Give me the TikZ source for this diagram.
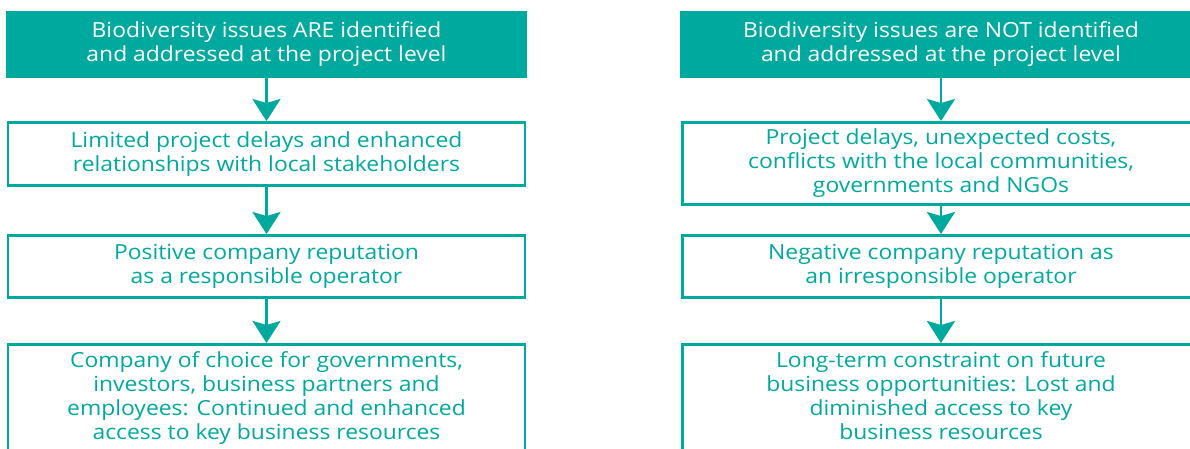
\documentclass[tikz,border=0pt]{standalone}
\usepackage{fontspec}
\setmainfont{Open Sans}[FakeStretch=1.1]
\usetikzlibrary{arrows.meta}
\definecolor{teal1}{HTML}{00A99D}
\tikzset{
  txt/.style={align=center, font=\fontsize{15.6}{18}\selectfont},
  headbox/.style={txt, draw=teal1, fill=teal1, line width=2pt, text=white},
  stepbox/.style={txt, draw=teal1, fill=white, line width=2.2pt, text=teal1},
  flow/.style={draw=teal1, line width=2.2pt, -{Stealth[length=16.5pt, width=21pt, inset=3pt]}},
}
\begin{document}
\begin{tikzpicture}[x=0.75pt,y=-0.75pt]
\clip (0,0) rectangle (1190,449);
\useasboundingbox (0,0) rectangle (1190,449);
% left column
\node[headbox, minimum width=519*0.75pt, minimum height=65*0.75pt] (l1) at (266.5,44.5) {Biodiversity issues ARE identified\\and addressed at the project level};
\node[stepbox, minimum width=517*0.75pt, minimum height=63*0.75pt] (l2) at (266.5,154) {Limited project delays and enhanced\\relationships with local stakeholders};
\node[stepbox, minimum width=517*0.75pt, minimum height=62*0.75pt] (l3) at (266.5,266.5) {Positive company reputation\\as a responsible operator};
\node[stepbox, minimum width=517*0.75pt, minimum height=130*0.75pt, anchor=north] (l4) at (266.5,343) {};
\node[txt, text=teal1, anchor=north] (l4t) at (266.5,347) {Company of choice for governments,\\investors, business partners and\\employees: Continued and enhanced\\access to key business resources};
% right column
\node[headbox, minimum width=519*0.75pt, minimum height=65*0.75pt] (r1) at (941,44.5) {Biodiversity issues are NOT identified\\and addressed at the project level};
\node[stepbox, minimum width=517*0.75pt, minimum height=82*0.75pt] (r2) at (941,163.5) {Project delays, unexpected costs,\\conflicts with the local communities,\\governments and NGOs};
\node[stepbox, minimum width=517*0.75pt, minimum height=62*0.75pt] (r3) at (941,266.5) {Negative company reputation as\\an irresponsible operator};
\node[stepbox, minimum width=517*0.75pt, minimum height=130*0.75pt, anchor=north] (r4) at (941,343) {};
\node[txt, text=teal1, anchor=north] (r4t) at (941,347) {Long-term constraint on future\\business opportunities: Lost and\\diminished access to key\\business resources};
% arrows
\draw[flow] (l1) -- (l2);
\draw[flow] (l2) -- (l3);
\draw[flow] (l3) -- (l4);
\draw[flow] (r1) -- (r2);
\draw[flow] (r2) -- (r3);
\draw[flow] (r3) -- (r4);
\end{tikzpicture}
\end{document}
